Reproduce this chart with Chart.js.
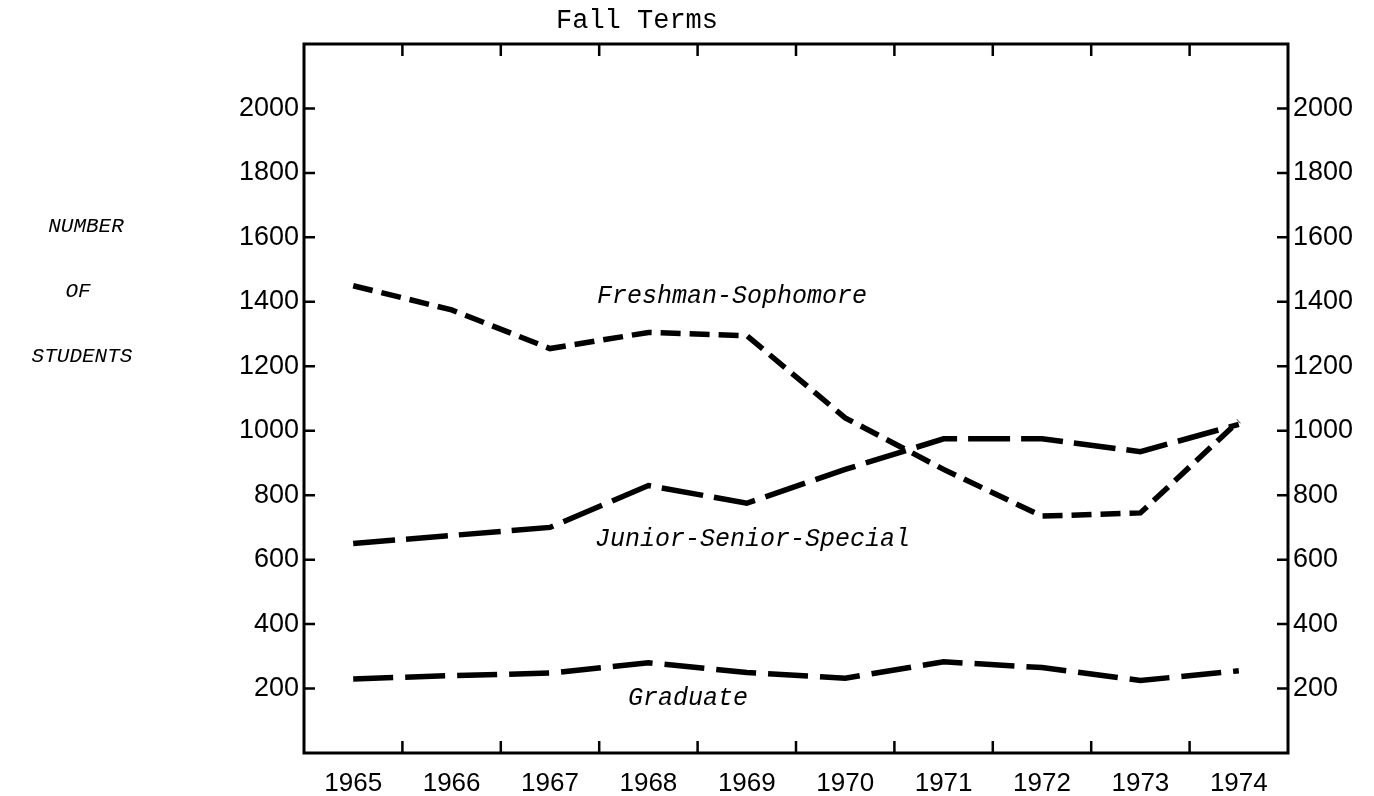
<!DOCTYPE html>
<html>
<head>
<meta charset="utf-8">
<title>Fall Terms - Number of Students</title>
<script src="https://cdn.jsdelivr.net/npm/chart.js@4.4.0/dist/chart.umd.min.js"></script>
<style>
    html, body { margin: 0; padding: 0; background: #fff; }
    #chart { display: block; }
</style>
</head>
<body>
<canvas id="chart" width="1374" height="796"></canvas>
<script>
// Datos (otono de cada anio)
const years = ['1965', '1966', '1967', '1968', '1969', '1970', '1971', '1972', '1973', '1974'];
const freshmanSophomore = [1450, 1375, 1255, 1305, 1295, 1040, 880, 735, 745, 1030];
const juniorSeniorSpecial = [650, 675, 700, 830, 775, 880, 975, 975, 935, 1020];
const graduate = [230, 240, 248, 280, 250, 232, 283, 265, 225, 255];

// Eje vertical
const yMin = 0;
const yMax = 2200;
const yStep = 200;
const yLabeled = [200, 400, 600, 800, 1000, 1200, 1400, 1600, 1800, 2000];

const MONO = '"Liberation Mono", "DejaVu Sans Mono", monospace';
const SANS = '"Liberation Sans", "DejaVu Sans", sans-serif';

// Etiqueta de tick: sin texto para 0 y el tope
function tickLabel(value) {
    return yLabeled.includes(value) ? String(value) : '';
}

// Marco y marcas hacia adentro, como en el original
const framePlugin = {
    id: 'frame',
    afterDraw(chart) {
        const { ctx, chartArea: a, scales } = chart;
        const x = scales.x;
        const y = scales.y;
        ctx.save();
        ctx.strokeStyle = '#000';
        ctx.lineWidth = 3;
        ctx.strokeRect(a.left, a.top, a.right - a.left, a.bottom - a.top);

        ctx.lineWidth = 2.5;
        ctx.beginPath();
        // marcas entre categorias, abajo y arriba
        for (let i = 1; i < years.length; i++) {
            const px = (x.getPixelForValue(i - 1) + x.getPixelForValue(i)) / 2;
            ctx.moveTo(px, a.bottom);
            ctx.lineTo(px, a.bottom - 12);
            ctx.moveTo(px, a.top);
            ctx.lineTo(px, a.top + 12);
        }
        // marcas de valores, izquierda y derecha
        yLabeled.forEach(v => {
            const py = y.getPixelForValue(v);
            ctx.moveTo(a.left, py);
            ctx.lineTo(a.left + 11, py);
            ctx.moveTo(a.right, py);
            ctx.lineTo(a.right - 11, py);
        });
        ctx.stroke();
        ctx.restore();
    }
};

// Textos sueltos: titulo, nombre del eje y nombres de series
const textPlugin = {
    id: 'texts',
    afterDraw(chart) {
        const { ctx } = chart;
        ctx.save();
        ctx.fillStyle = '#000';
        ctx.textBaseline = 'middle';

        ctx.font = '27px ' + MONO;
        ctx.textAlign = 'left';
        ctx.fillText('Fall Terms', 556, 21);

        ctx.font = 'italic 21px ' + MONO;
        ctx.textAlign = 'center';
        ctx.fillText('NUMBER', 86, 226);
        ctx.fillText('OF', 78, 291);
        ctx.fillText('STUDENTS', 82, 356);

        ctx.font = 'italic 25px ' + MONO;
        ctx.textAlign = 'left';
        ctx.fillText('Freshman-Sophomore', 597, 296);
        ctx.fillText('Junior-Senior-Special', 595, 539);
        ctx.fillText('Graduate', 628, 698);
        ctx.restore();
    }
};

const lineBase = {
    borderColor: '#000',
    borderWidth: 5.5,
    pointRadius: 0,
    tension: 0,
    fill: false,
    borderCapStyle: 'butt'
};

new Chart(document.getElementById('chart'), {
    type: 'line',
    data: {
        labels: years,
        datasets: [
            { ...lineBase, label: 'Freshman-Sophomore', data: freshmanSophomore, borderDash: [20, 9] },
            { ...lineBase, label: 'Junior-Senior-Special', data: juniorSeniorSpecial, borderDash: [42, 11] },
            { ...lineBase, label: 'Graduate', data: graduate, borderDash: [40, 12] }
        ]
    },
    options: {
        responsive: false,
        animation: false,
        layout: { padding: { top: 44, left: 0, right: 0, bottom: 0 } },
        plugins: {
            legend: { display: false },
            title: { display: false },
            tooltip: { enabled: false }
        },
        scales: {
            x: {
                type: 'category',
                offset: true,
                grid: { display: false, drawTicks: false },
                border: { display: false },
                ticks: {
                    color: '#000',
                    font: { family: SANS, size: 26 },
                    padding: 15,
                    maxRotation: 0
                },
                afterFit(scale) { scale.height = 43; }
            },
            y: {
                position: 'left',
                min: yMin,
                max: yMax,
                grid: { display: false, drawTicks: false },
                border: { display: false },
                ticks: {
                    stepSize: yStep,
                    color: '#000',
                    font: { family: SANS, size: 27 },
                    padding: 5,
                    callback: tickLabel
                },
                afterFit(scale) { scale.width = 304; }
            },
            y2: {
                position: 'right',
                min: yMin,
                max: yMax,
                grid: { display: false, drawTicks: false },
                border: { display: false },
                ticks: {
                    stepSize: yStep,
                    color: '#000',
                    font: { family: SANS, size: 27 },
                    padding: 5,
                    callback: tickLabel
                },
                afterFit(scale) { scale.width = 86; }
            }
        }
    },
    plugins: [framePlugin, textPlugin]
});
</script>
</body>
</html>
